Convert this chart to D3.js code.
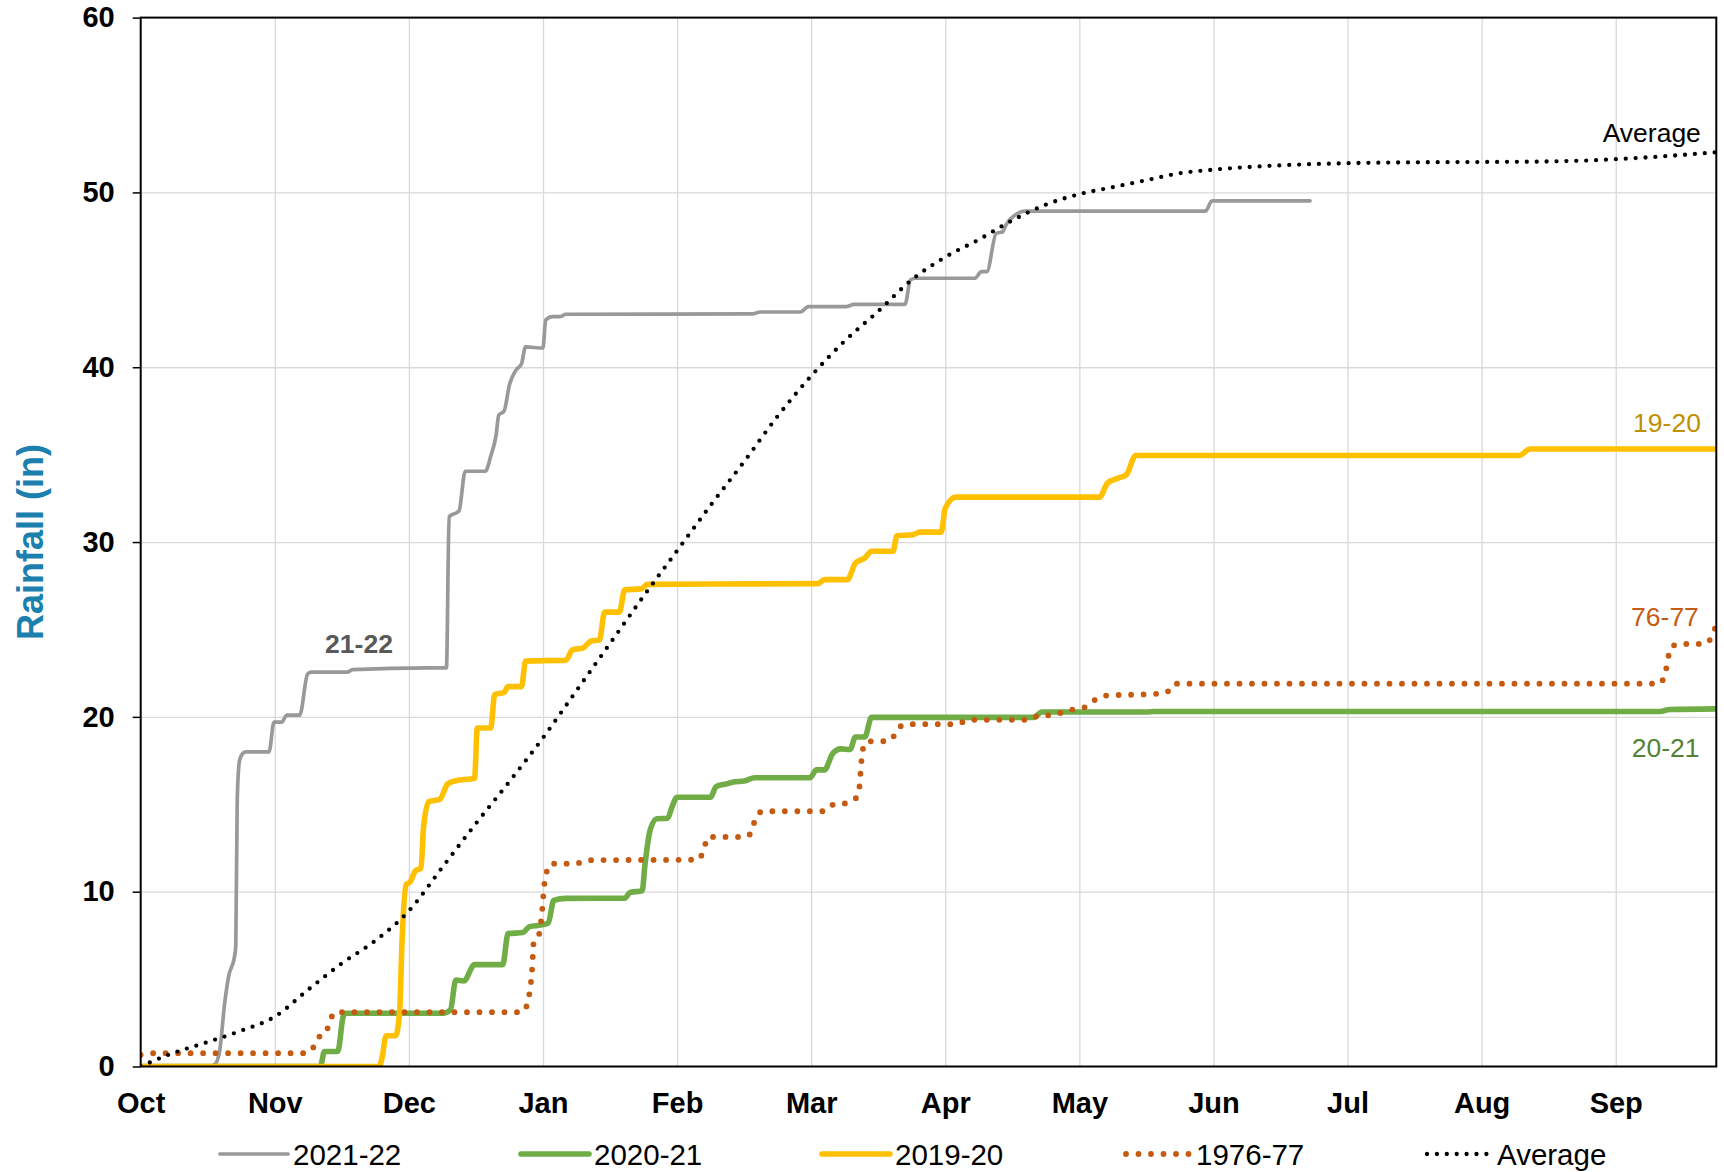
<!DOCTYPE html>
<html>
<head>
<meta charset="utf-8">
<script src="https://cdn.jsdelivr.net/npm/d3@7"></script>
<style>
  body { margin: 0; background: #fff; }
  svg { display: block; font-family: "Liberation Sans", Arial, sans-serif; }
  .base__gridlines line { stroke: #d9d9d9; stroke-width: 1.3; }
  .base__gridlines .domain { display: none; }
  .axis__y .domain, .axis__x .domain { display: none; }
  .axis__y line { stroke: #000; stroke-width: 1.5; }
  .axis__x line { display: none; }
  .fontStyle text { font-size: 29px; font-weight: bold; fill: #000; }
  .legend text { font-size: 29.5px; fill: #000; }
  .series-label { font-size: 26.5px; }
</style>
</head>
<body>
<svg id="chart" width="1724" height="1172"></svg>
<script>
// x values are months since Oct 1 (water year), y values are cumulative inches
const months = ["Oct", "Nov", "Dec", "Jan", "Feb", "Mar", "Apr", "May", "Jun", "Jul", "Aug", "Sep"];
const yTickValues = [0, 10, 20, 30, 40, 50, 60];

const rain2122 = [
  [0, 0], [0.5, 0], [0.55, 0.1], [0.586, 0.76], [0.629, 3.8], [0.657, 5.2], [0.7, 6.3], [0.709, 6.9],
  [0.72, 15.3], [0.737, 17.5], [0.76, 17.9], [0.786, 18.0], [0.957, 18.0], [0.994, 19.7], [1.051, 19.7],
  [1.09, 20.1], [1.186, 20.1], [1.244, 22.44], [1.27, 22.56], [1.54, 22.56], [1.58, 22.7], [2.15, 22.8],
  [2.28, 22.8], [2.3, 31.45], [2.36, 31.7], [2.375, 31.8], [2.42, 34.05], [2.57, 34.05], [2.61, 34.9],
  [2.65, 36.1], [2.67, 37.25], [2.71, 37.5], [2.75, 39.0], [2.8, 39.85], [2.84, 40.2], [2.87, 41.16],
  [3.0, 41.1], [3.02, 42.7], [3.07, 42.9], [3.13, 42.9], [3.17, 43.03], [4.56, 43.05], [4.62, 43.16],
  [4.92, 43.16], [4.98, 43.47], [5.26, 43.47], [5.32, 43.6], [5.7, 43.6], [5.74, 44.99], [5.78, 45.09],
  [6.22, 45.09], [6.27, 45.47], [6.31, 45.47], [6.38, 47.66], [6.43, 47.75], [6.45, 48.1], [6.52, 48.7],
  [6.59, 48.93], [7.94, 48.93], [7.99, 49.52], [8.72, 49.52]
];

const rain2021 = [
  [0, 0], [1.34, 0], [1.37, 0.86], [1.47, 0.86], [1.51, 2.86], [1.53, 3.05], [2.26, 3.05], [2.31, 3.24],
  [2.35, 4.95], [2.41, 4.9], [2.49, 5.83], [2.7, 5.83], [2.74, 7.6], [2.85, 7.66], [2.9, 8.0], [2.99, 8.1],
  [3.04, 8.22], [3.08, 9.5], [3.17, 9.62], [3.61, 9.63], [3.65, 9.96], [3.74, 10.05], [3.76, 11.5],
  [3.8, 13.55], [3.85, 14.17], [3.93, 14.2], [3.96, 14.8], [4.0, 15.4], [4.25, 15.4], [4.29, 16.0],
  [4.37, 16.17], [4.42, 16.28], [4.5, 16.33], [4.58, 16.52], [4.99, 16.52], [5.04, 16.97], [5.1, 16.97],
  [5.16, 17.9], [5.22, 18.17], [5.29, 18.13], [5.33, 18.85], [5.4, 18.85], [5.45, 19.97], [6.66, 19.97],
  [6.72, 20.28], [7.5, 20.28], [7.56, 20.31], [11.33, 20.31], [11.4, 20.42], [11.75, 20.46]
];

const rain1920 = [
  [0, 0], [1.78, 0], [1.8, 0.5], [1.83, 1.76], [1.9, 1.76], [1.93, 3.0], [1.95, 7.37], [1.98, 10.4],
  [2.01, 10.56], [2.05, 11.2], [2.09, 11.33], [2.11, 13.75], [2.15, 15.15], [2.23, 15.28], [2.29, 16.17],
  [2.35, 16.35], [2.49, 16.48], [2.51, 19.36], [2.61, 19.36], [2.64, 21.28], [2.71, 21.4], [2.74, 21.73],
  [2.84, 21.73], [2.87, 23.19], [3.17, 23.24], [3.22, 23.83], [3.3, 23.95], [3.36, 24.34], [3.42, 24.39],
  [3.46, 25.99], [3.57, 25.99], [3.61, 27.27], [3.73, 27.32], [3.78, 27.58], [5.05, 27.62], [5.1, 27.85],
  [5.27, 27.85], [5.33, 28.8], [5.4, 29.09], [5.45, 29.47], [5.61, 29.47], [5.64, 30.36], [5.76, 30.42],
  [5.81, 30.57], [5.97, 30.57], [6.0, 31.94], [6.08, 32.57], [7.15, 32.57], [7.21, 33.37], [7.29, 33.66],
  [7.35, 33.85], [7.42, 34.95], [10.28, 34.95], [10.36, 35.32], [11.75, 35.32]
];

const rain7677 = [
  [0, 0.67], [0.1, 0.76], [1.21, 0.76], [1.27, 0.9], [1.32, 1.62], [1.38, 1.91], [1.41, 2.58], [1.45, 3.11],
  [2.84, 3.11], [2.88, 3.5], [2.9, 4.24], [2.92, 5.67], [2.93, 7.06], [2.97, 7.54], [2.99, 8.6], [3.01, 10.4],
  [3.03, 11.2], [3.06, 11.6], [3.24, 11.6], [3.33, 11.8], [4.16, 11.83], [4.2, 12.44], [4.23, 13.13],
  [4.5, 13.13], [4.56, 13.42], [4.58, 14.12], [4.64, 14.6], [5.1, 14.6], [5.17, 15.0], [5.26, 15.06],
  [5.33, 15.32], [5.36, 16.0], [5.37, 17.0], [5.385, 18.13], [5.42, 18.6], [5.52, 18.6], [5.6, 18.7],
  [5.64, 19.31], [5.72, 19.58], [6.09, 19.58], [6.17, 19.83], [6.63, 19.83], [6.7, 20.09], [6.8, 20.09],
  [6.89, 20.32], [6.98, 20.47], [7.06, 20.6], [7.12, 20.99], [7.2, 21.22], [7.56, 21.31], [7.65, 21.4],
  [7.71, 21.9], [11.33, 21.9], [11.37, 22.55], [11.41, 23.94], [11.47, 24.17], [11.66, 24.17],
  [11.72, 24.65], [11.75, 25.3]
];

const rainAverage = [
  [0, 0], [0.2, 0.65], [0.5, 1.4], [0.75, 2.05], [1.0, 2.85], [1.25, 4.4], [1.5, 5.9], [1.75, 7.2],
  [2.0, 8.9], [2.25, 11.4], [2.5, 13.9], [2.75, 16.3], [3.0, 18.8], [3.25, 21.5], [3.5, 24.2],
  [3.75, 26.9], [4.0, 29.5], [4.25, 32.1], [4.5, 34.6], [4.75, 37.2], [5.0, 39.5], [5.25, 41.5],
  [5.5, 43.2], [5.75, 45.0], [6.0, 46.3], [6.25, 47.3], [6.5, 48.4], [6.75, 49.3], [7.0, 49.9],
  [7.25, 50.3], [7.5, 50.7], [7.75, 51.1], [8.0, 51.3], [8.5, 51.55], [9.0, 51.67], [9.5, 51.72],
  [10.0, 51.74], [10.5, 51.77], [10.8, 51.83], [11.0, 51.9], [11.35, 52.06], [11.75, 52.3]
];

const seriesNames = ["2021-22", "2020-21", "2019-20", "1976-77", "Average"];
const seriesValues = [rain2122, rain2021, rain1920, rain7677, rainAverage];
const seriesStyle = [
  { color: "#999999", width: 3.7, dash: null },
  { color: "#70ad47", width: 5.6, dash: null },
  { color: "#ffc000", width: 5.6, dash: null },
  { color: "#c55a11", width: 5.8, dash: "0 12.5" },
  { color: "#000000", width: 4.3, dash: "0 9.9" }
];

// in-chart labels: [text, month, value, colour, bold, anchor]
const seriesLabels = [
  ["21-22", 1.628, 23.65, "#595959", true, "middle"],
  ["Average", 11.635, 52.9, "#000000", false, "end"],
  ["19-20", 11.635, 36.3, "#bf9000", false, "end"],
  ["76-77", 11.62, 25.2, "#c55a11", false, "end"],
  ["20-21", 11.625, 17.7, "#548235", false, "end"]
];

function drawChart(config) {
  const { margin, svgWidth, svgHeight, xMax, yMax } = config;
  const width = svgWidth - margin.left - margin.right;
  const height = svgHeight - margin.top - margin.bottom;

  const xScale = d3.scaleLinear().domain([0, xMax]).range([0, width]);
  const yScale = d3.scaleLinear().domain([0, yMax]).range([height, 0]);

  const svg = d3.select("#chart")
    .append("g")
    .attr("transform", `translate(${margin.left},${margin.top})`);

  svg.append("defs").append("clipPath").attr("id", "plot-clip")
    .append("rect").attr("width", width).attr("height", height);

  // vertical gridlines, one per month
  svg.append("g")
    .attr("class", "base__gridlines gridlines__y")
    .attr("transform", `translate(0,${height})`)
    .call(d3.axisBottom(xScale).tickValues(d3.range(1, months.length)).tickSize(-height).tickFormat(""));

  svg.append("g")
    .attr("class", "base__gridlines gridlines__x")
    .call(d3.axisLeft(yScale).tickValues(yTickValues.slice(1, -1)).tickSize(-width).tickFormat(""));

  svg.append("g")
    .attr("class", "base__axis axis__x fontStyle")
    .attr("transform", `translate(0,${height})`)
    .call(d3.axisBottom(xScale).tickValues(d3.range(months.length)).tickSize(0).tickPadding(26)
      .tickFormat((d) => months[d]));

  svg.append("g")
    .attr("class", "base__axis axis__y fontStyle")
    .call(d3.axisLeft(yScale).tickValues(yTickValues).tickSize(8).tickPadding(18));

  const line = d3.line()
    .x((d) => xScale(d[0]))
    .y((d) => yScale(d[1]))
    .curve(d3.curveMonotoneX);

  const lines = svg.append("g").attr("clip-path", "url(#plot-clip)");
  seriesValues.forEach((values, i) => {
    const st = seriesStyle[i];
    lines.append("path")
      .datum(values)
      .attr("fill", "none")
      .attr("stroke", st.color)
      .attr("stroke-width", st.width)
      .attr("stroke-linecap", "round")
      .attr("stroke-linejoin", "round")
      .attr("stroke-dasharray", st.dash)
      .attr("d", line);
  });

  // plot frame
  svg.append("rect")
    .attr("width", width)
    .attr("height", height)
    .attr("fill", "none")
    .attr("stroke", "#000")
    .attr("stroke-width", 2);

  svg.selectAll(".series-label")
    .data(seriesLabels)
    .join("text")
    .attr("class", "series-label")
    .attr("x", (d) => xScale(d[1]))
    .attr("y", (d) => yScale(d[2]))
    .attr("fill", (d) => d[3])
    .attr("font-weight", (d) => (d[4] ? "bold" : "normal"))
    .attr("text-anchor", (d) => d[5])
    .text((d) => d[0]);

  svg.append("text")
    .attr("class", "base__axis-label axis__y-label")
    .attr("transform", `translate(${42.7 - margin.left},${height / 2}) rotate(-90)`)
    .attr("text-anchor", "middle")
    .attr("fill", "#1b80ae")
    .attr("font-size", 36)
    .attr("font-weight", "bold")
    .text("Rainfall (in)");

  // legend
  const legend = svg.append("g")
    .attr("class", "legend")
    .attr("transform", `translate(${79 - margin.left},${1154 - margin.top})`);
  seriesNames.forEach((name, i) => {
    const st = seriesStyle[i];
    const g = legend.append("g").attr("transform", `translate(${i * 301},0)`);
    g.append("line")
      .attr("x1", st.dash ? 144 : 141)
      .attr("x2", 209)
      .attr("stroke", st.color)
      .attr("stroke-width", st.width)
      .attr("stroke-linecap", "round")
      .attr("stroke-dasharray", st.dash);
    g.append("text")
      .attr("x", 214)
      .attr("dy", "0.36em")
      .text(name);
  });
}

drawChart({
  margin: { top: 17.6, right: 7.7, bottom: 105.5, left: 140.7 },
  svgWidth: 1724,
  svgHeight: 1172,
  xMax: 11.75,
  yMax: 60
});
</script>
</body>
</html>
